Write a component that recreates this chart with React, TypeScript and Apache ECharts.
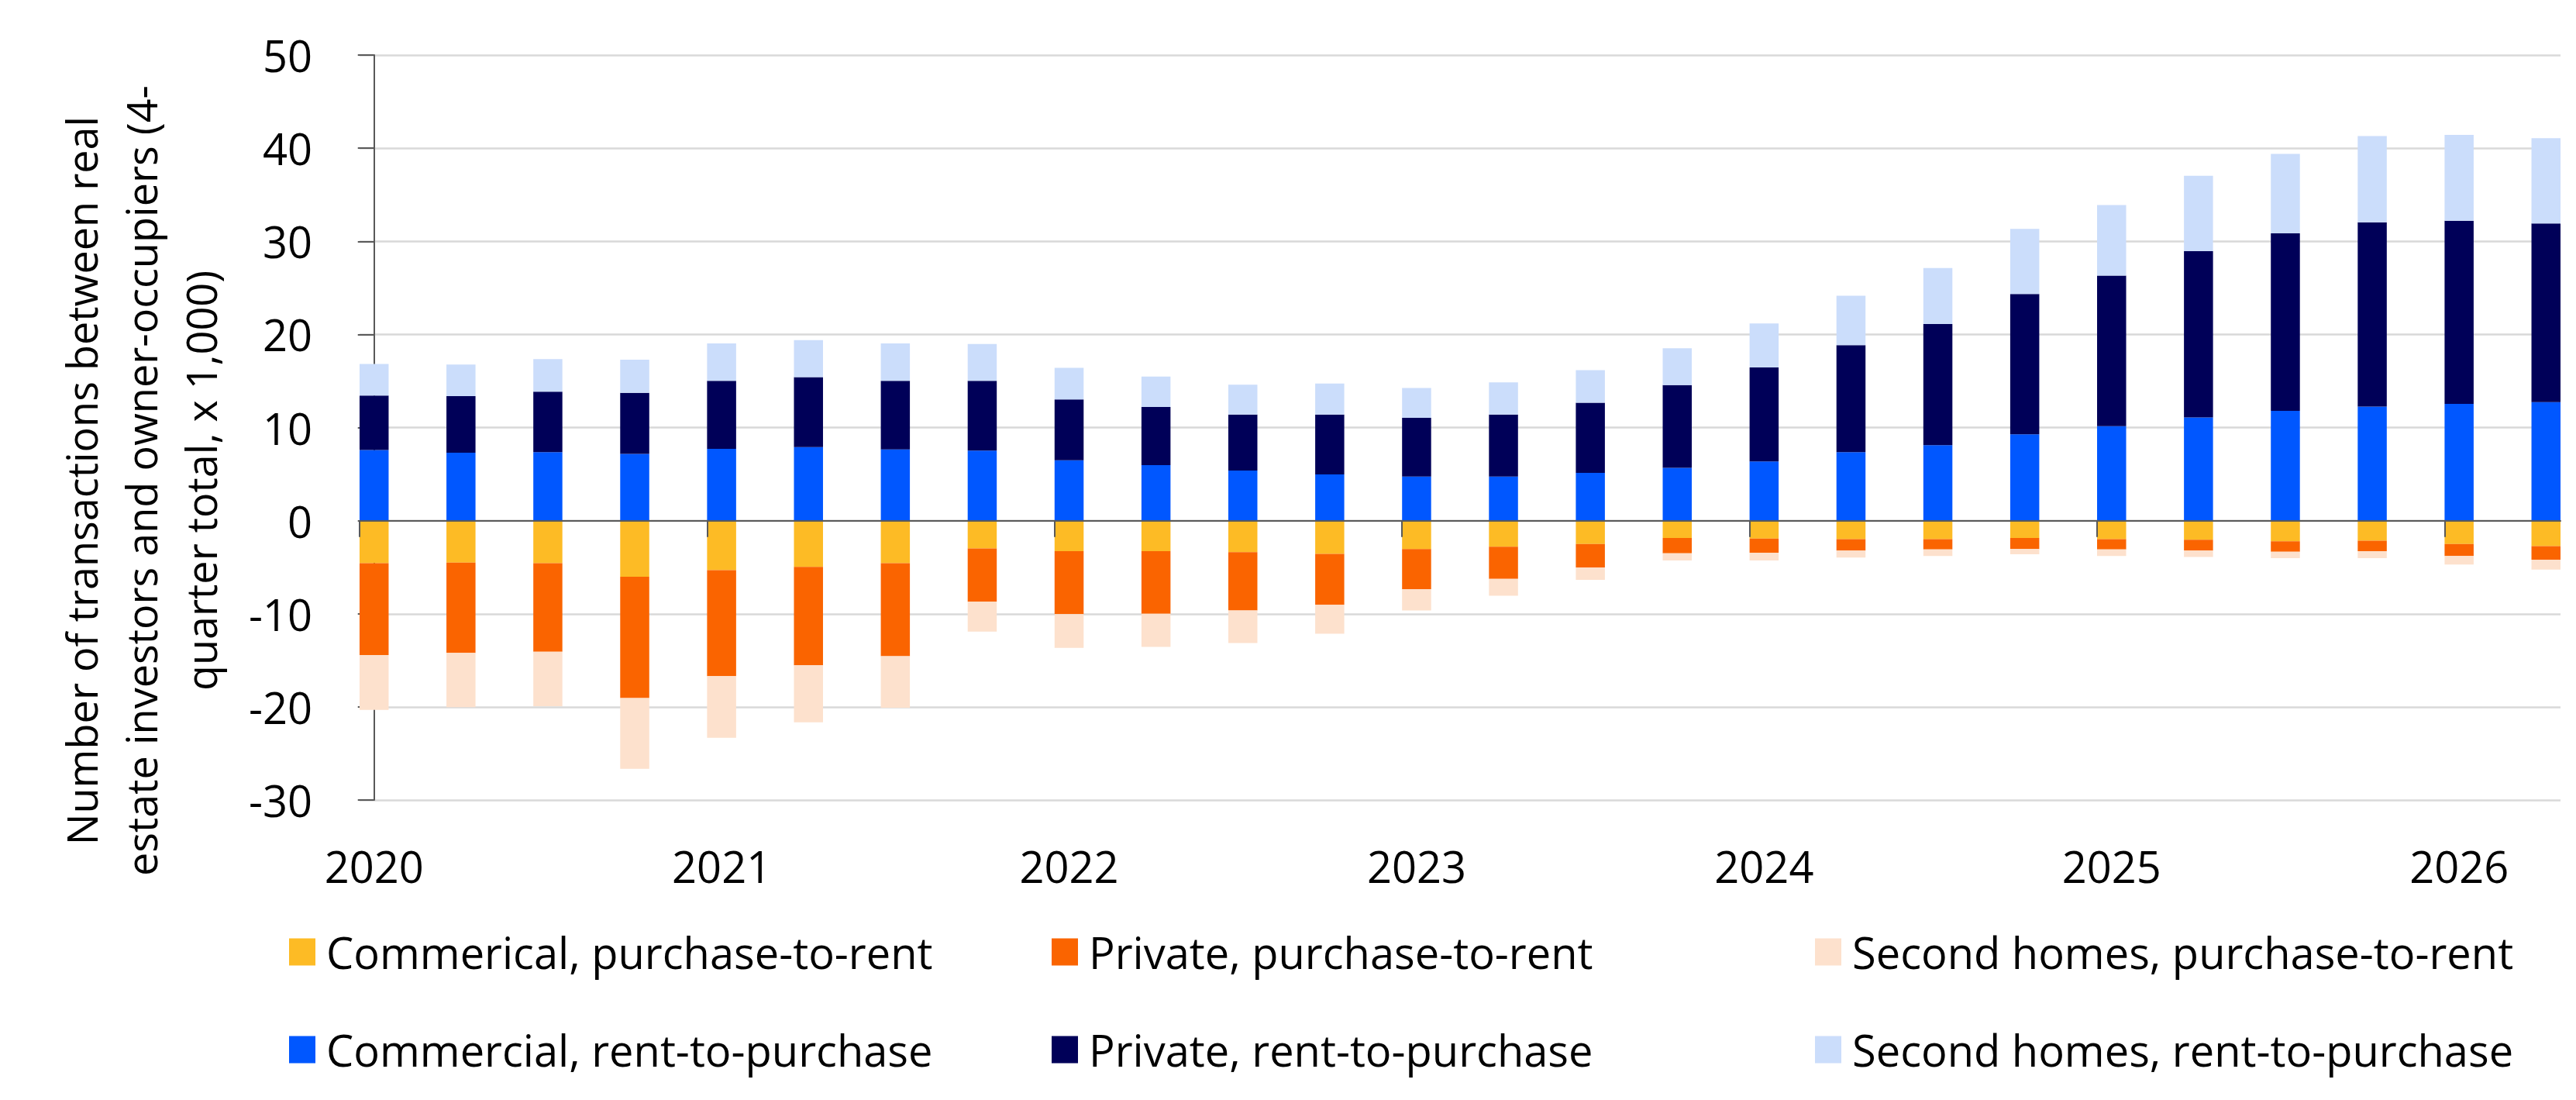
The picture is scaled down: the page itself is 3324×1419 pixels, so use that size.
import React, { useEffect, useRef } from 'react';
import * as echarts from 'echarts';

const quarters = [
  '2020 Q1', '2020 Q2', '2020 Q3', '2020 Q4',
  '2021 Q1', '2021 Q2', '2021 Q3', '2021 Q4',
  '2022 Q1', '2022 Q2', '2022 Q3', '2022 Q4',
  '2023 Q1', '2023 Q2', '2023 Q3', '2023 Q4',
  '2024 Q1', '2024 Q2', '2024 Q3', '2024 Q4',
  '2025 Q1', '2025 Q2', '2025 Q3', '2025 Q4',
  '2026 Q1', '2026 Q2',
];

const commercialPurchaseToRent = [-4.56, -4.5, -4.56, -6.02, -5.32, -4.96, -4.56, -2.98, -3.27, -3.27, -3.39, -3.56, -3.04, -2.8, -2.51, -1.87, -1.93, -1.98, -1.98, -1.87, -1.98, -2.04, -2.22, -2.16, -2.51, -2.74];
const privatePurchaseToRent = [-9.87, -9.7, -9.52, -13.03, -11.39, -10.57, -9.99, -5.72, -6.78, -6.72, -6.25, -5.49, -4.32, -3.45, -2.51, -1.64, -1.52, -1.23, -1.11, -1.17, -1.11, -1.17, -1.11, -1.11, -1.28, -1.46];
const secondHomesPurchaseToRent = [-5.9, -5.84, -5.84, -7.59, -6.6, -6.13, -5.55, -3.21, -3.62, -3.56, -3.5, -3.1, -2.28, -1.81, -1.34, -0.76, -0.82, -0.76, -0.7, -0.58, -0.7, -0.7, -0.7, -0.76, -0.93, -1.05];
const commercialRentToPurchase = [7.59, 7.3, 7.36, 7.18, 7.71, 7.89, 7.65, 7.53, 6.48, 5.96, 5.37, 4.96, 4.73, 4.73, 5.14, 5.67, 6.36, 7.35, 8.11, 9.28, 10.15, 11.08, 11.78, 12.25, 12.54, 12.72];
const privateRentToPurchase = [5.84, 6.07, 6.48, 6.54, 7.3, 7.53, 7.36, 7.48, 6.54, 6.25, 6.02, 6.43, 6.31, 6.66, 7.53, 8.88, 10.09, 11.49, 13.01, 15.05, 16.16, 17.85, 19.08, 19.78, 19.66, 19.19];
const secondHomesRentToPurchase = [3.39, 3.39, 3.5, 3.56, 4.03, 3.97, 4.03, 3.97, 3.39, 3.27, 3.21, 3.33, 3.21, 3.45, 3.5, 3.97, 4.73, 5.31, 6.01, 7.0, 7.58, 8.11, 8.52, 9.28, 9.22, 9.16];

const seriesNames = [
  'Commerical, purchase-to-rent',
  'Private, purchase-to-rent',
  'Second homes, purchase-to-rent',
  'Commercial, rent-to-purchase',
  'Private, rent-to-purchase',
  'Second homes, rent-to-purchase',
];
const seriesColors = ['#FDBB25', '#FA6400', '#FDE1CD', '#0057FF', '#000058', '#CBDDFB'];
const seriesValues = [
  commercialPurchaseToRent,
  privatePurchaseToRent,
  secondHomesPurchaseToRent,
  commercialRentToPurchase,
  privateRentToPurchase,
  secondHomesRentToPurchase,
];

const yTitle = 'Number of transactions between real\nestate investors and owner-occupiers (4-\nquarter total, x 1,000)';

const FONT = '"Open Sans", "Noto Sans", sans-serif';

export default function App() {
  const ref = useRef<HTMLDivElement>(null);
  useEffect(() => {
    const chart = echarts.init(ref.current as HTMLDivElement, null, { renderer: 'svg' });
    const halfBar = 0.167;
    const n = quarters.length;
    const yearIdx = quarters.map((_, i) => i).filter((i) => i % 4 === 0);

    const legendItem = (names: string[], left: number) => ({
      orient: 'vertical',
      left,
      top: 1200,
      padding: 0,
      itemGap: 70,
      itemWidth: 34,
      itemHeight: 35,
      icon: 'rect',
      selectedMode: false,
      data: names,
      textStyle: { fontFamily: FONT, fontSize: 56, color: '#000', padding: [0, 0, 0, 9] },
    });

    const option: any = {
      animation: false,
      backgroundColor: '#fff',
      textStyle: { fontFamily: FONT },
      grid: { left: 464, top: 71, width: 2840, height: 961, containLabel: false, outerBoundsMode: 'none' },
      xAxis: [
        {
          type: 'value',
          position: 'bottom',
          min: -halfBar,
          max: n - 1 + halfBar,
          axisLine: { show: false, onZero: false },
          axisTick: { show: false },
          splitLine: { show: false },
          axisLabel: {
            show: true,
            customValues: yearIdx,
            formatter: (v: number) => quarters[Math.round(v)].slice(0, 4),
            margin: 57,
            fontSize: 56,
            fontFamily: FONT,
            color: '#000',
          },
        },
        {
          type: 'value',
          position: 'top',
          min: -halfBar,
          max: n - 1 + halfBar,
          z: 10,
          axisLine: { show: true, onZero: true, lineStyle: { color: '#595959', width: 2 } },
          axisTick: {
            show: true,
            inside: true,
            length: 21,
            customValues: yearIdx.map((i) => i - halfBar),
            lineStyle: { color: '#595959', width: 2 },
          },
          splitLine: { show: false },
          axisLabel: { show: false },
        },
      ],
      yAxis: {
        type: 'value',
        min: -30,
        max: 50,
        interval: 10,
        axisLine: { show: true, lineStyle: { color: '#595959', width: 2 } },
        axisTick: { show: true, length: 21, lineStyle: { color: '#595959', width: 2 } },
        splitLine: { show: true, lineStyle: { color: '#D9D9D9', width: 2.5 } },
        axisLabel: { margin: 61, fontSize: 56, fontFamily: FONT, color: '#000' },
      },
      legend: [
        legendItem([seriesNames[0], seriesNames[3]], 373),
        legendItem([seriesNames[1], seriesNames[4]], 1357),
        legendItem([seriesNames[2], seriesNames[5]], 2342),
      ],
      graphic: [
        {
          type: 'text',
          x: 182,
          y: 620,
          rotation: Math.PI / 2,
          style: {
            text: yTitle,
            font: `54px ${FONT}`,
            fill: '#000',
            textAlign: 'center',
            textVerticalAlign: 'middle',
            lineHeight: 77,
          },
        },
      ],
      series: seriesNames.map((name, k) => ({
        name,
        type: 'bar',
        stack: 'total',
        stackStrategy: 'samesign',
        xAxisIndex: 0,
        yAxisIndex: 0,
        barWidth: 37.5,
        itemStyle: { color: seriesColors[k] },
        encode: { x: 1, y: 0 },
        data: seriesValues[k].map((v, i) => [v, i]),
      })),
    };
    chart.setOption(option);
    return () => chart.dispose();
  }, []);
  return (
    <div
      ref={ref}
      style={{ position: 'absolute', left: 0, top: 0, width: 3324, height: 1419, background: '#fff' }}
    />
  );
}
